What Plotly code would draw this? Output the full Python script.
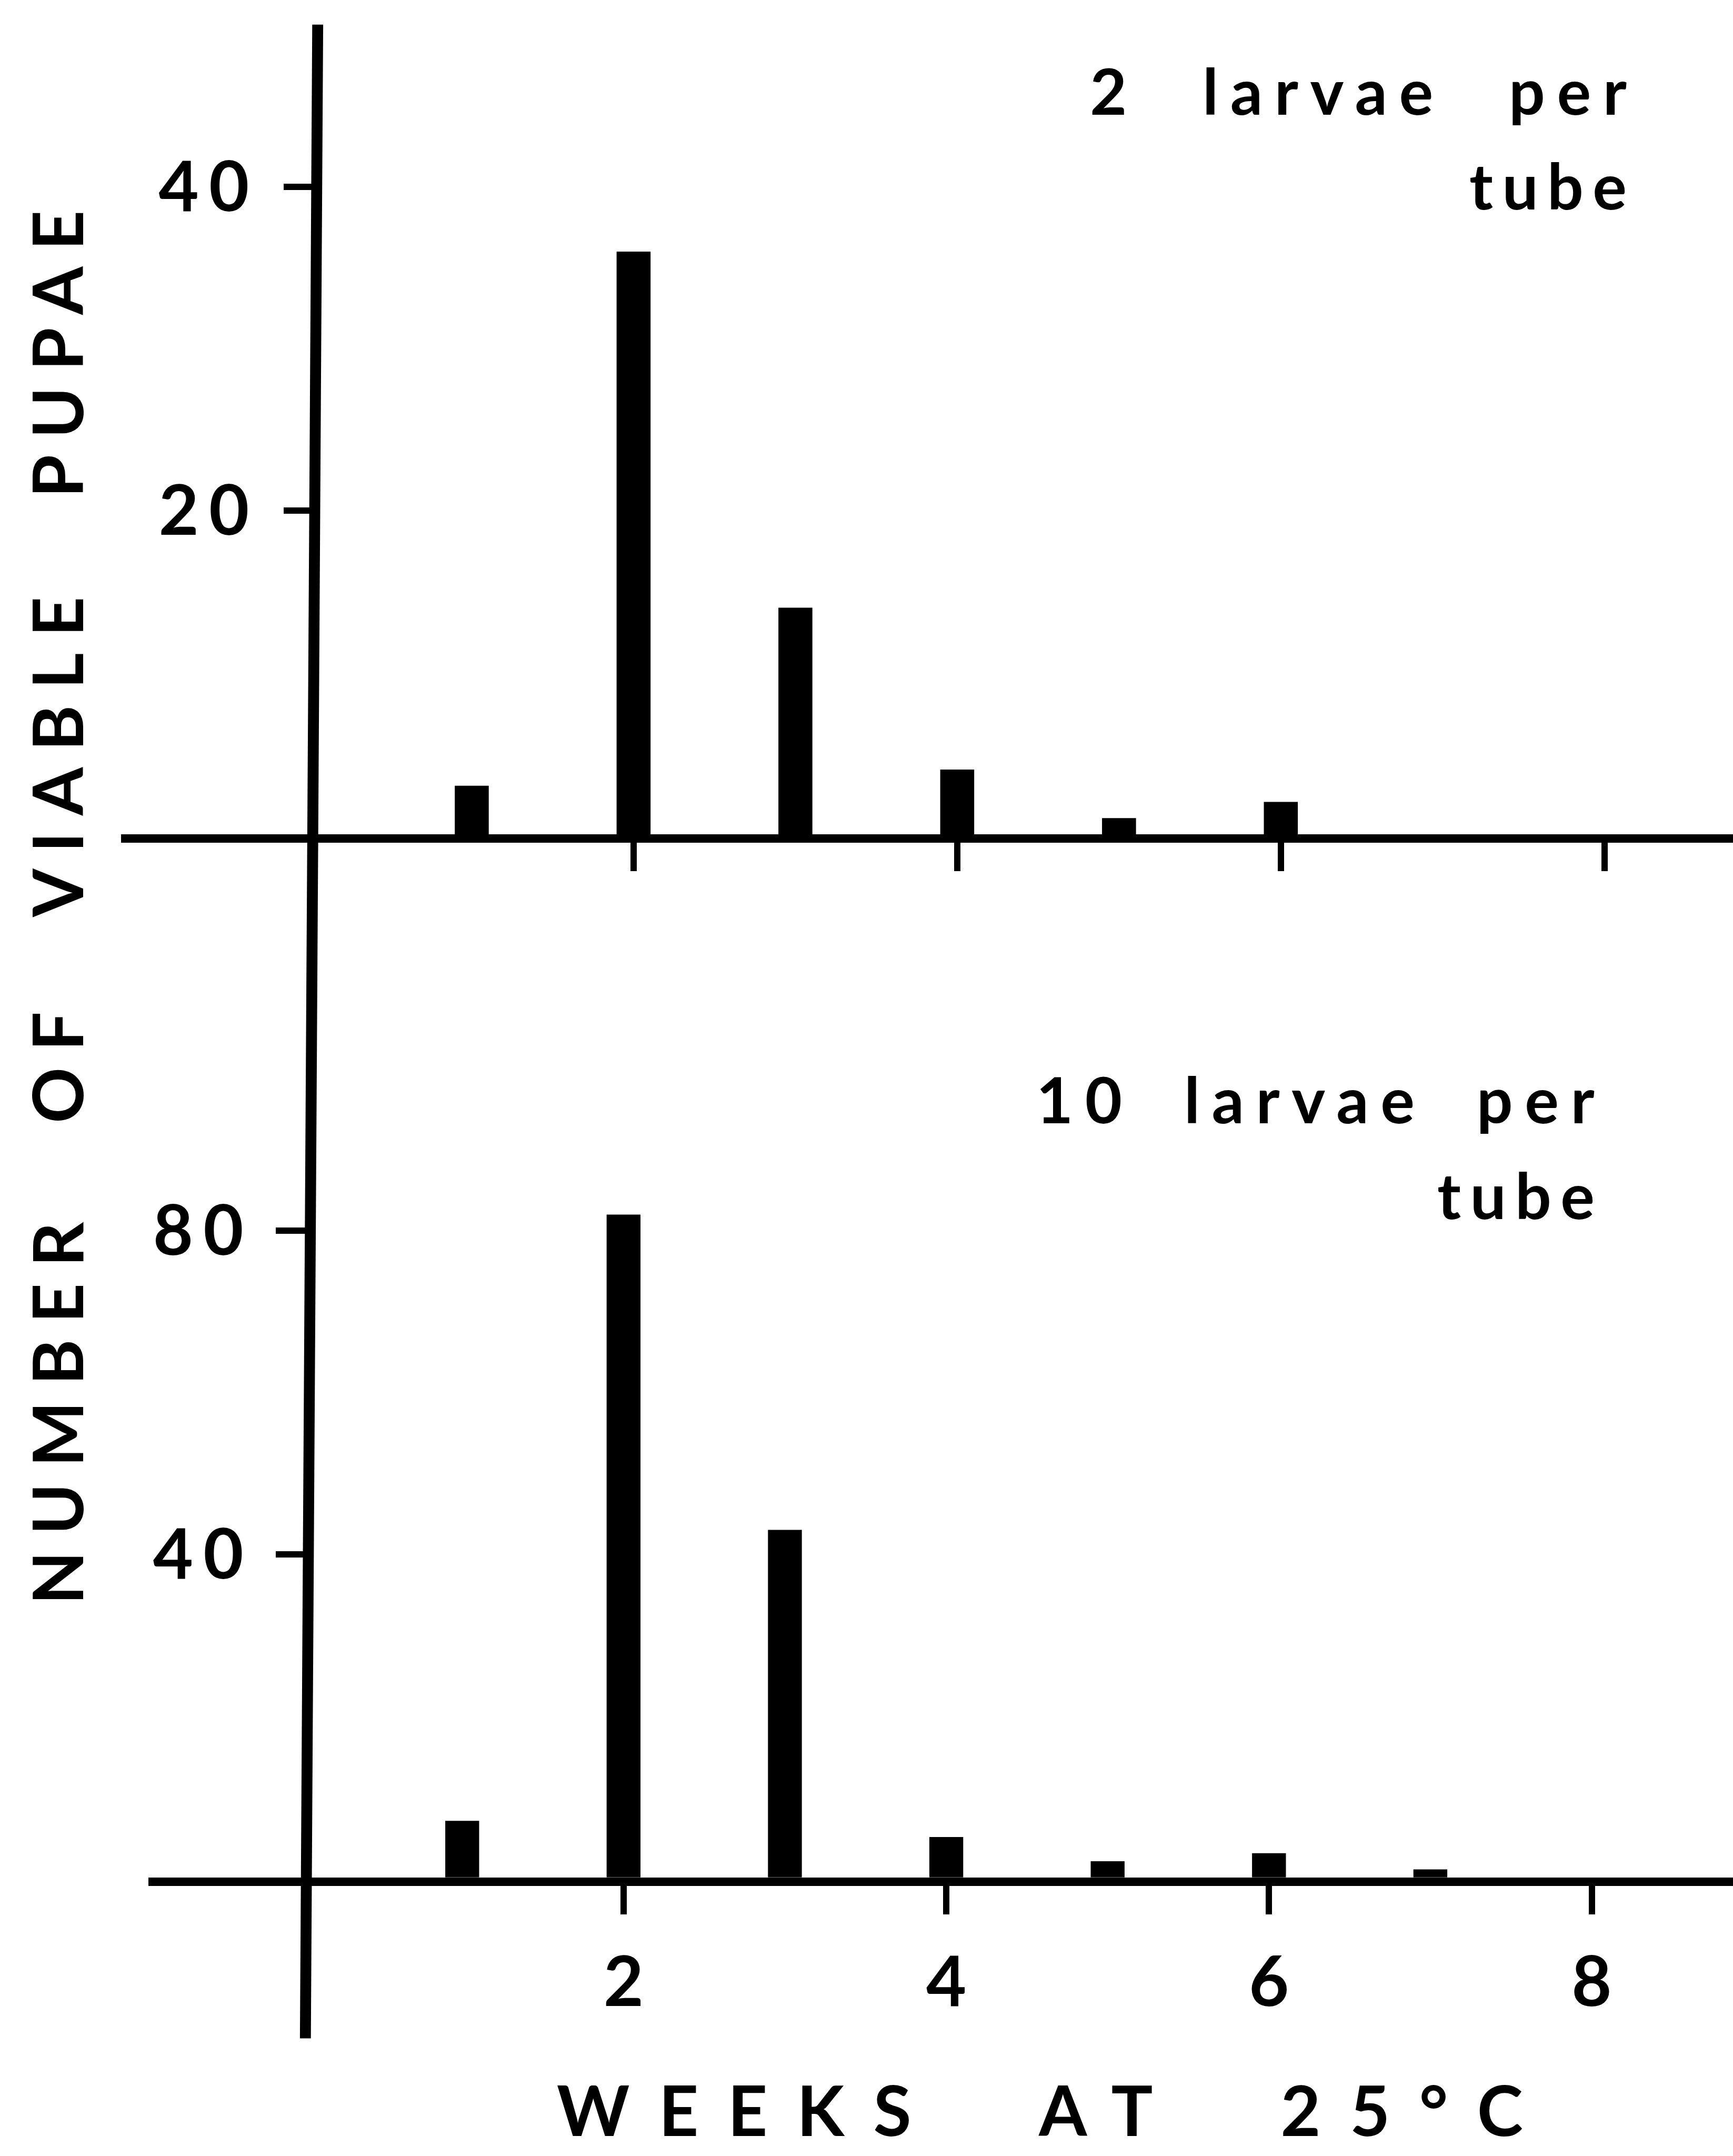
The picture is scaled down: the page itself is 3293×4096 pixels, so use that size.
import plotly.graph_objects as go

# ---------------- data ----------------
weeks = [1, 2, 3, 4, 5, 6, 7]
pupae_2_per_tube = [3, 36, 14, 4, 1, 2, 0]
pupae_10_per_tube = [7, 82, 43, 5, 2, 3, 1]

x_tick_vals = [2, 4, 6, 8]
x_tick_text = ["2", "4", "6", "8"]
top_y_tick_vals = [20, 40]
top_y_tick_text = ["20", "40"]
bottom_y_tick_vals = [40, 80]
bottom_y_tick_text = ["40", "80"]

top_label_lines = ["2 larvae per", "tube"]
bottom_label_lines = ["10 larvae per", "tube"]
x_title = "WEEKS AT 25°C"
y_title = "NUMBER OF VIABLE PUPAE"

# ---------------- geometry (reference pixel units) ----------------
REF_W, REF_H = 3802, 4729
OUT_W, OUT_H = 3293, 4096
K = OUT_W / REF_W


def px(v):
    return v * K


def ipx(v):
    return int(round(v * K))


def pxx(xr):
    return xr / REF_W


def pyy(yr):
    return 1 - yr / REF_H


# top panel: pixel of x=0, pixels per week, left end of baseline
T_X0, T_XU, T_LEFT = 680, 355, 265
T_Y0, T_YU, T_TOP = 1830, 35.5, 47
# bottom panel
B_X0, B_XU, B_LEFT = 660, 354, 326
B_Y0, B_YU, B_TOP = 4118, 17.73, 1890

FONT = "Lato"
BLACK = "#000000"


def spaced(text, ls, ws=0):
    return f'<span style="letter-spacing:{ls:.1f}px;word-spacing:{ws:.1f}px">{text}</span>'


BAR_W = 0.21

fig = go.Figure()
fig.add_trace(go.Bar(x=weeks, y=pupae_2_per_tube, width=BAR_W,
                     marker=dict(color=BLACK, line=dict(width=0)),
                     xaxis="x", yaxis="y", hoverinfo="skip"))
fig.add_trace(go.Bar(x=weeks, y=pupae_10_per_tube, width=BAR_W,
                     marker=dict(color=BLACK, line=dict(width=0)),
                     xaxis="x2", yaxis="y2", hoverinfo="skip"))

tick_font = dict(family=FONT, size=px(152), color=BLACK, weight=700)
LS_TICK = px(22)

common_x = dict(showline=True, linewidth=px(19), linecolor=BLACK,
                ticks="outside", ticklen=px(62), tickwidth=px(14), tickcolor=BLACK,
                tickvals=x_tick_vals, showgrid=False, zeroline=False, fixedrange=True)
common_y = dict(showline=False, ticks="outside", ticklen=px(72), tickwidth=px(14),
                tickcolor=BLACK, showgrid=False, zeroline=False, fixedrange=True,
                tickfont=tick_font, anchor="free")

fig.update_layout(
    width=OUT_W, height=OUT_H,
    margin=dict(l=0, r=0, t=0, b=0, pad=0),
    paper_bgcolor="white", plot_bgcolor="white",
    showlegend=False, hovermode=False,
    xaxis=dict(domain=[pxx(T_LEFT), 1],
               range=[(T_LEFT - T_X0) / T_XU, (REF_W - T_X0) / T_XU],
               anchor="y", showticklabels=False, **common_x),
    yaxis=dict(domain=[pyy(T_Y0), pyy(T_TOP)],
               range=[0, (T_Y0 - T_TOP) / T_YU],
               position=pxx(694),
               tickvals=top_y_tick_vals,
               ticktext=[spaced(t, LS_TICK) for t in top_y_tick_text],
               ticklabelstandoff=ipx(23), **common_y),
    xaxis2=dict(domain=[pxx(B_LEFT), 1],
                range=[(B_LEFT - B_X0) / B_XU, (REF_W - B_X0) / B_XU],
                anchor="y2", showticklabels=True, ticktext=x_tick_text,
                tickfont=tick_font, ticklabelstandoff=ipx(19), **common_x),
    yaxis2=dict(domain=[pyy(B_Y0), pyy(B_TOP)],
                range=[0, (B_Y0 - B_TOP) / B_YU],
                position=pxx(677),
                tickvals=bottom_y_tick_vals,
                ticktext=[spaced(t, LS_TICK) for t in bottom_y_tick_text],
                ticklabelstandoff=ipx(18), **common_y),
)

# continuous vertical axis line through both panels
fig.add_shape(type="line", xref="paper", yref="paper",
              x0=pxx(697), y0=pyy(54), x1=pxx(670), y1=pyy(4471),
              line=dict(color=BLACK, width=px(24)))

# panel labels
lab_font = dict(family=FONT, size=px(140), color=BLACK, weight=700)
LS_LAB = px(26)
LS_TUBE = px(20)
fig.add_annotation(xref="x", yref="y", x=(3571 - T_X0) / T_XU, y=(T_Y0 - 198) / T_YU,
                   text=spaced(top_label_lines[0], LS_LAB, px(80)), showarrow=False,
                   xanchor="right", yanchor="middle", xshift=LS_LAB, font=lab_font)
fig.add_annotation(xref="x", yref="y", x=(3571 - T_X0) / T_XU, y=(T_Y0 - 405) / T_YU,
                   text=spaced(top_label_lines[1], LS_TUBE), showarrow=False,
                   xanchor="right", yanchor="middle", xshift=LS_TUBE, font=lab_font)
fig.add_annotation(xref="x2", yref="y2", x=(3500 - B_X0) / B_XU, y=(B_Y0 - 2410) / B_YU,
                   text=spaced(bottom_label_lines[0], LS_LAB, px(50)), showarrow=False,
                   xanchor="right", yanchor="middle", xshift=LS_LAB, font=lab_font)
fig.add_annotation(xref="x2", yref="y2", x=(3500 - B_X0) / B_XU, y=(B_Y0 - 2620) / B_YU,
                   text=spaced(bottom_label_lines[1], LS_TUBE), showarrow=False,
                   xanchor="right", yanchor="middle", xshift=LS_TUBE, font=lab_font)

# axis titles
title_font = dict(family=FONT, size=px(152), color=BLACK, weight=700)
LS_XT = px(64)
fig.add_annotation(xref="paper", yref="paper", x=pxx(2281), y=pyy(4626),
                   text=spaced(x_title, LS_XT, px(120)), showarrow=False,
                   borderpad=0, borderwidth=0,
                   xanchor="center", yanchor="middle", xshift=LS_XT / 2, font=title_font)
LS_YT = px(36)
fig.add_annotation(xref="paper", yref="paper", x=pxx(124), y=pyy(1990),
                   text=spaced(y_title, LS_YT, px(108)), showarrow=False, textangle=-90,
                   xanchor="center", yanchor="middle", yshift=LS_YT / 2, font=title_font)

fig.write_html("out.html")
